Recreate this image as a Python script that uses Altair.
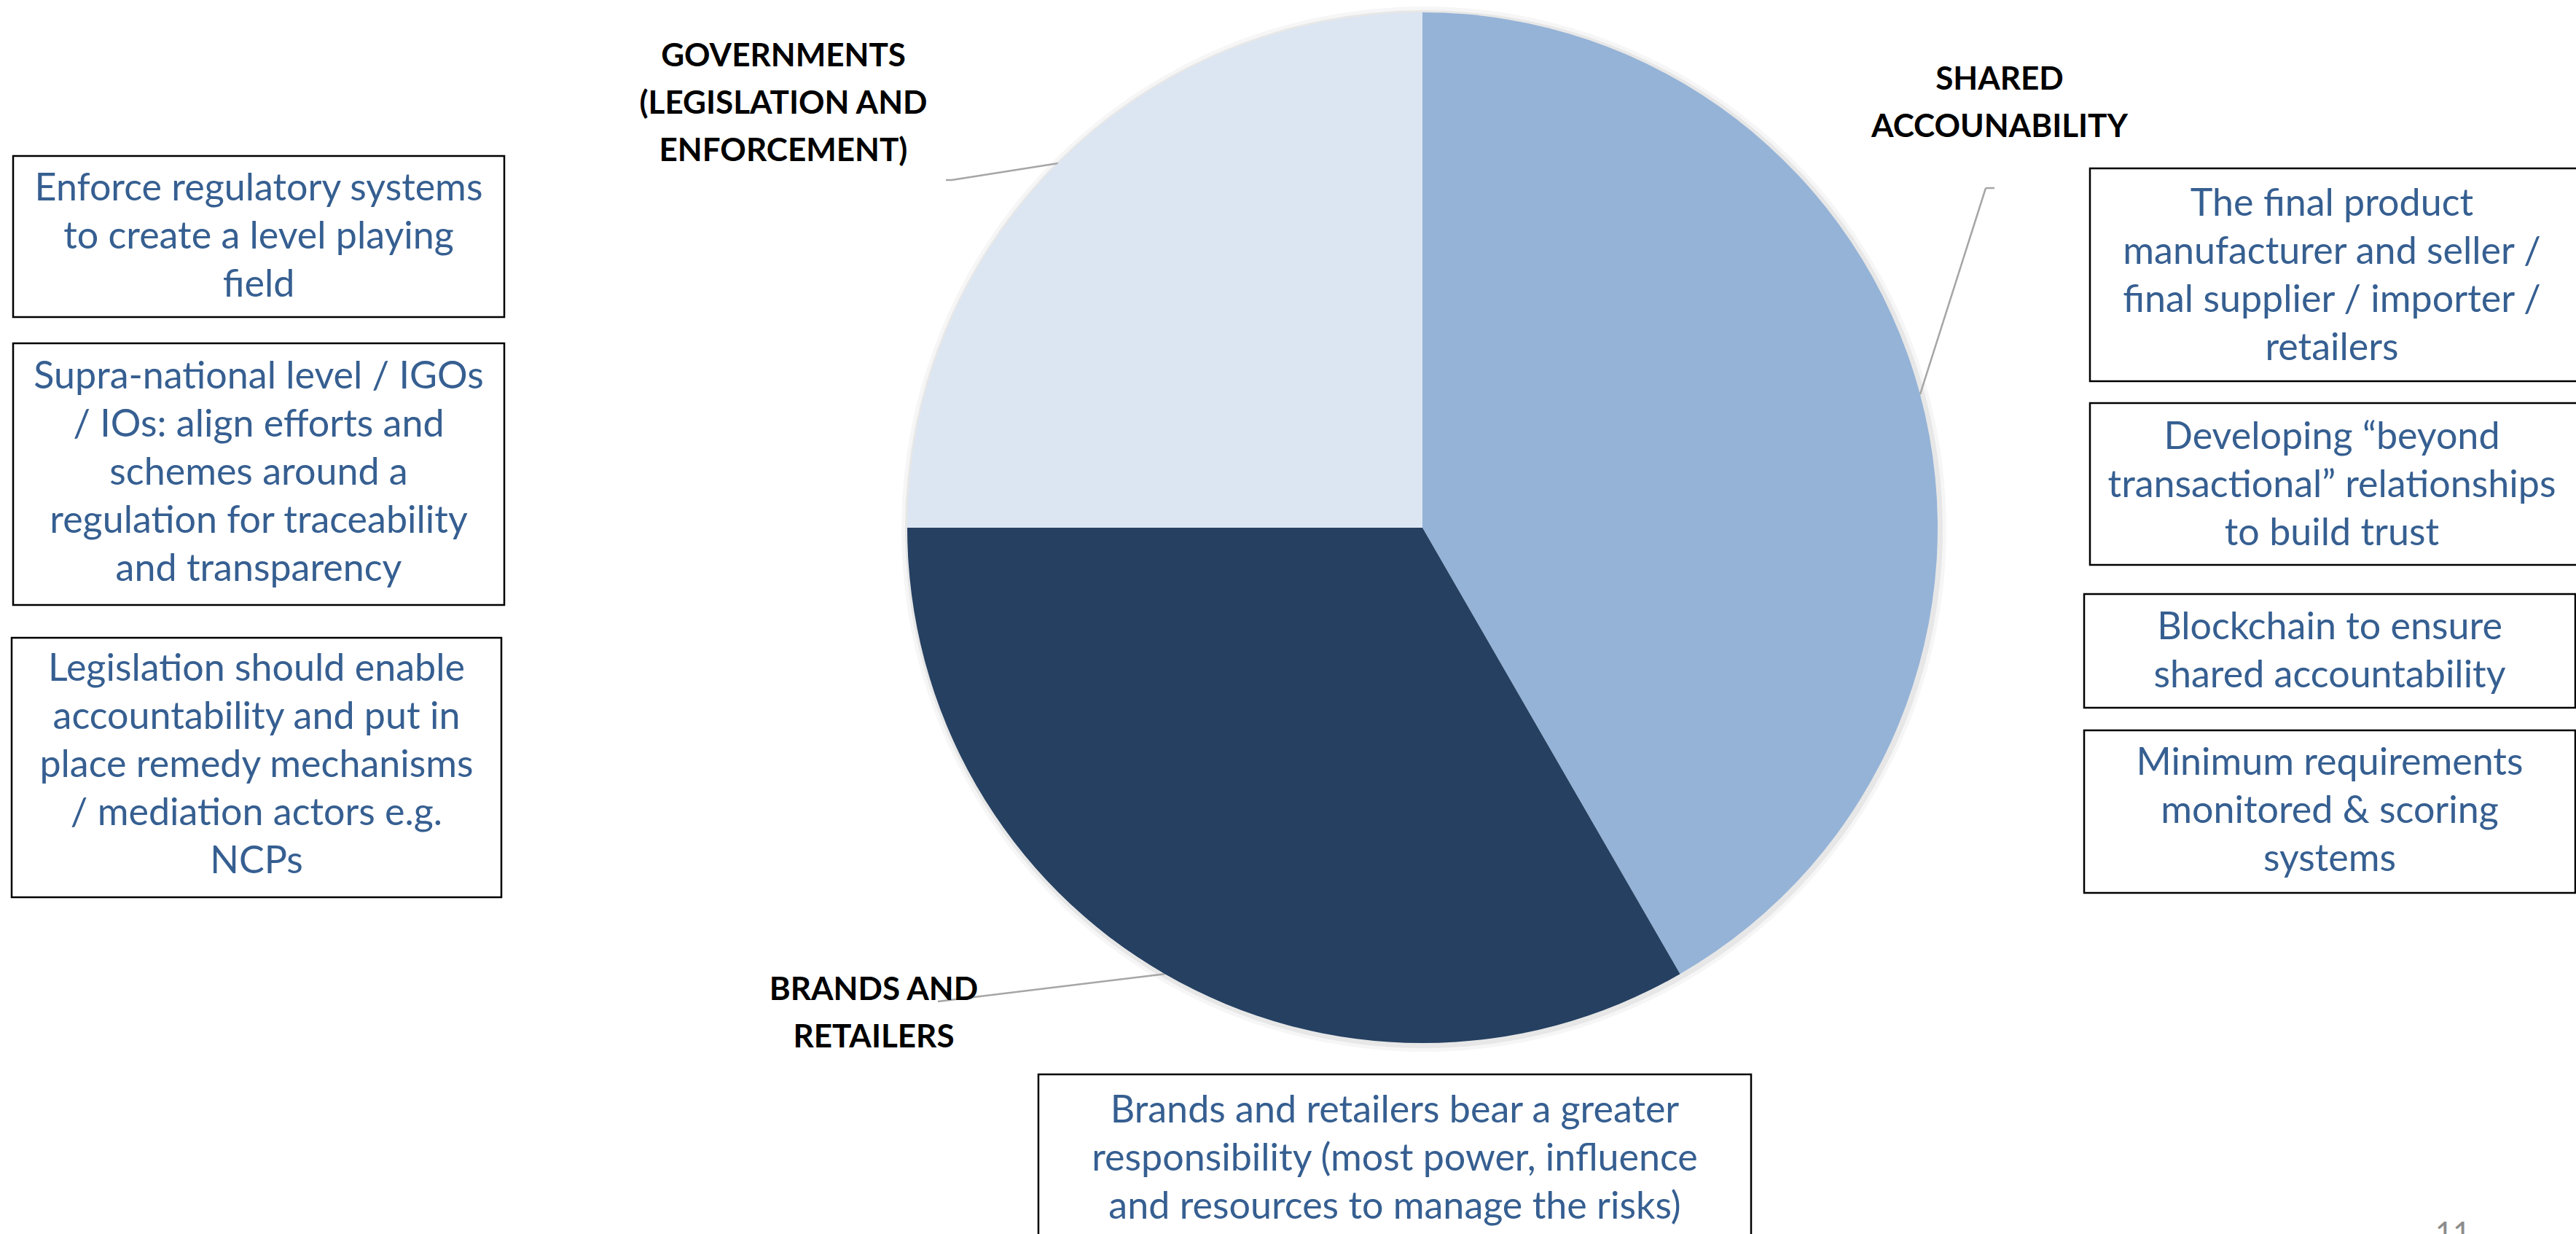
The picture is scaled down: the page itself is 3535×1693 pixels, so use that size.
import math
import altair as alt
import pandas as pd

# ---------------- data ----------------
categories = ["SHARED ACCOUNABILITY", "BRANDS AND RETAILERS",
              "GOVERNMENTS (LEGISLATION AND ENFORCEMENT)"]
shares = [5, 4, 3]
slice_colors = ["#95B3D7", "#254061", "#DCE6F2"]

label_lines = [
    ["SHARED", "ACCOUNABILITY"],
    ["BRANDS AND", "RETAILERS"],
    ["GOVERNMENTS", "(LEGISLATION AND", "ENFORCEMENT)"],
]

left_box_texts = [
    ["Enforce regulatory systems", "to create a level playing", "field"],
    ["Supra-national level / IGOs", "/ IOs: align efforts and", "schemes around a",
     "regulation for traceability", "and transparency"],
    ["Legislation should enable", "accountability and put in", "place remedy mechanisms",
     "/ mediation actors e.g.", "NCPs"],
]
right_box_texts = [
    ["The final product", "manufacturer and seller /", "final supplier / importer /", "retailers"],
    ["Developing \u201cbeyond", "transactional\u201d relationships", "to build trust"],
    ["Blockchain to ensure", "shared accountability"],
    ["Minimum requirements", "monitored & scoring", "systems"],
]
bottom_box_text = ["Brands and retailers bear a greater",
                   "responsibility (most power, influence",
                   "and resources to manage the risks)"]
page_number = "11"

# ---------------- layout ----------------
W, H = 3535, 1693
CX, CY, R = 1952, 724, 707
LH = 66
BOX_FONT = 52
TEXT_BLUE = "#365F91"

# boxes: (x1, x2, y1, y2, first line center y, center x, lines)
boxes = [
    (18, 692, 214, 435, 259, 355, left_box_texts[0]),
    (18, 692, 471, 830, 517, 355, left_box_texts[1]),
    (16, 688, 875, 1231, 918, 352, left_box_texts[2]),
    (2868, 3560, 231, 523, 280, 3200, right_box_texts[0]),
    (2868, 3560, 553, 775, 600, 3200, right_box_texts[1]),
    (2860, 3534, 815, 971, 861, 3197, right_box_texts[2]),
    (2860, 3534, 1002, 1225, 1047, 3197, right_box_texts[3]),
    (1425, 2403, 1474, 1720, 1524, 1914, bottom_box_text),
]

# pie labels: (center x, first line center y, lines)
label_pos = [(2744, 110), (1199, 1359), (1075, 78)]
# leader line start points (x, y) near each label
leader_start = [(2737, 258), (1287, 1374), (1298, 247)]
leader_elbow = [(2725, 258), None, (1306, 247)]

# ---------------- build tables ----------------
pie_df = pd.DataFrame({
    "category": categories,
    "share": shares,
    "idx": list(range(len(categories))),
})

rect_rows, text_rows = [], []
for x1, x2, y1, y2, ty, tx, lines in boxes:
    rect_rows.append({"x1": x1, "x2": x2, "y1": y1, "y2": y2})
    for i, t in enumerate(lines):
        text_rows.append({"x": tx, "y": ty + i * LH, "t": t})
rect_df = pd.DataFrame(rect_rows)
text_df = pd.DataFrame(text_rows)

lab_rows = []
for (lx, ly), lines in zip(label_pos, label_lines):
    for i, t in enumerate(lines):
        lab_rows.append({"x": lx, "y": ly + i * 65, "t": t})
lab_df = pd.DataFrame(lab_rows)

# leader lines: from label to the middle of each slice's outer edge
total = sum(shares)
seg_rows = []
cum = 0
for k, s in enumerate(shares):
    mid = (cum + s / 2) / total * 2 * math.pi
    cum += s
    ex = CX + R * math.sin(mid)
    ey = CY - R * math.cos(mid)
    sx, sy = leader_start[k]
    el = leader_elbow[k]
    if el is not None:
        seg_rows.append({"x": sx, "y": sy, "x2": el[0], "y2": el[1]})
        sx, sy = el
    seg_rows.append({"x": sx, "y": sy, "x2": ex, "y2": ey})
seg_df = pd.DataFrame(seg_rows)

xs = alt.Scale(domain=[0, W], nice=False, zero=False)
ys = alt.Scale(domain=[0, H], nice=False, zero=False, reverse=True)

# ---------------- layers ----------------
shadow1 = alt.Chart(pie_df).mark_arc(outerRadius=R + 10, fill="#000000", opacity=0.035).encode(
    theta=alt.Theta("share:Q", stack=True), order=alt.Order("idx:Q"),
    x=alt.value(CX + 2), y=alt.value(CY + 2))
shadow2 = alt.Chart(pie_df).mark_arc(outerRadius=R + 5, fill="#000000", opacity=0.06).encode(
    theta=alt.Theta("share:Q", stack=True), order=alt.Order("idx:Q"),
    x=alt.value(CX + 2), y=alt.value(CY + 2))

pie = alt.Chart(pie_df).mark_arc(outerRadius=R).encode(
    theta=alt.Theta("share:Q", stack=True),
    order=alt.Order("idx:Q"),
    color=alt.Color("category:N", scale=alt.Scale(domain=categories, range=slice_colors), legend=None),
    x=alt.value(CX), y=alt.value(CY),
)

leaders = alt.Chart(seg_df).mark_rule(color="#A6A6A6", strokeWidth=2.5).encode(
    x=alt.X("x:Q", scale=xs, axis=None), y=alt.Y("y:Q", scale=ys, axis=None),
    x2="x2:Q", y2="y2:Q")

labels = alt.Chart(lab_df).mark_text(font="Lato", fontWeight="bold", fontSize=44,
                                     color="#000000", align="center", baseline="middle").encode(
    x=alt.X("x:Q", scale=xs, axis=None), y=alt.Y("y:Q", scale=ys, axis=None), text="t:N")

rects = alt.Chart(rect_df).mark_rect(fill="white", stroke="#000000", strokeWidth=2.5).encode(
    x=alt.X("x1:Q", scale=xs, axis=None), x2="x2:Q",
    y=alt.Y("y1:Q", scale=ys, axis=None), y2="y2:Q")

texts = alt.Chart(text_df).mark_text(font="Lato", fontSize=BOX_FONT, color=TEXT_BLUE,
                                     align="center", baseline="middle").encode(
    x=alt.X("x:Q", scale=xs, axis=None), y=alt.Y("y:Q", scale=ys, axis=None), text="t:N")

pn = alt.Chart(pd.DataFrame({"x": [3366], "y": [1674], "t": [page_number]})).mark_text(
    font="Lato", fontSize=42, color="#8C8C8C", align="center", baseline="top").encode(
    x=alt.X("x:Q", scale=xs, axis=None), y=alt.Y("y:Q", scale=ys, axis=None), text="t:N")

chart = alt.layer(shadow1, shadow2, leaders, pie, labels, rects, texts, pn).properties(
    width=W, height=H, autosize=alt.AutoSizeParams(type="none"), padding=0,
    background="white",
).configure_view(stroke=None).resolve_scale(color="independent")

chart.save("out.html", embed_options={"renderer": "svg", "actions": False})
